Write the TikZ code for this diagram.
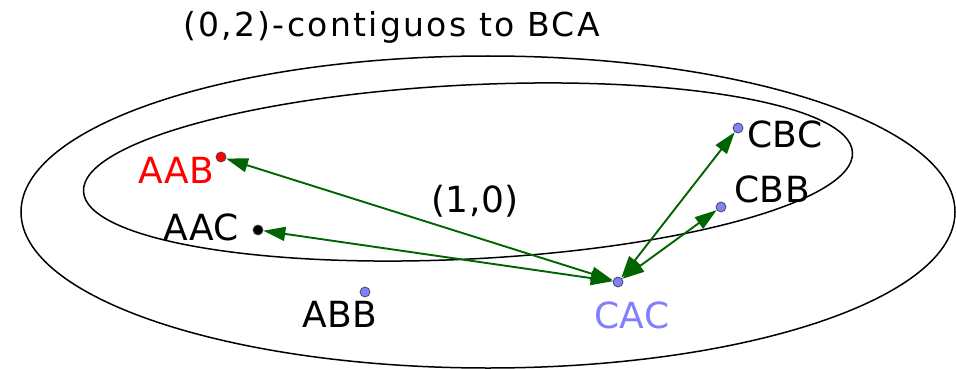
\documentclass[tikz,border=0pt]{standalone}
\usepackage{fontspec}
\setmainfont{DejaVu Sans}
\newfontfamily\titlefont[LetterSpace=7]{DejaVu Sans}
\newfontfamily\labfont[LetterSpace=1.5]{DejaVu Sans}
\usetikzlibrary{arrows.meta}
\definecolor{dotblue}{RGB}{128,128,255}
\definecolor{arrgreen}{RGB}{0,100,0}
\begin{document}
\begin{tikzpicture}[x=1pt,y=-1pt,
  dot/.style={circle,inner sep=0pt,minimum size=10pt,draw=black!75,line width=0.7pt},
  lab/.style={anchor=base west,inner sep=0pt,font=\labfont\fontsize{36}{40}\selectfont},
  conn/.style={draw=arrgreen,line width=1.9pt,
     {Triangle[length=22pt,width=14pt]}-{Triangle[length=22pt,width=14pt]}},
  setline/.style={line width=1.5pt}]
\useasboundingbox (0,0) rectangle (956,369);
% title
\node[anchor=base west,inner sep=0pt,font=\titlefont\fontsize{33}{37}\selectfont] (title) at (183,37) {(0,2)-contiguos to BCA};
% sets
\draw[setline] (488,212) ellipse [x radius=467pt, y radius=156pt];
\draw[setline, rotate around={2.9:(468,172)}] (468,172) ellipse [x radius=385pt, y radius=87pt];
% dots
\node[dot,fill=red] (aab) at (221,157) {};
\node[dot,fill=black] (aac) at (258,230) {};
\node[dot,fill=dotblue] (abb) at (365,292) {};
\node[dot,fill=dotblue] (cac) at (618,282) {};
\node[dot,fill=dotblue] (cbc) at (738,128) {};
\node[dot,fill=dotblue] (cbb) at (721,207) {};
% labels
\node[lab,text=red] (laab) at (138,183) {AAB};
\node[lab] (laac) at (163,240) {AAC};
\node[lab] (labb) at (302,327) {ABB};
\node[lab,text=dotblue] (lcac) at (594,328) {CAC};
\node[lab] (lcbc) at (747,147) {CBC};
\node[lab] (lcbb) at (734,202) {CBB};
\node[lab] (l10) at (431,212) {(1,0)};
% connectors
\draw[conn] (cac) -- (aab);
\draw[conn] (cac) -- (aac);
\draw[conn] (cac) -- (cbc);
\draw[conn] (cac) -- (cbb);
\end{tikzpicture}
\end{document}
